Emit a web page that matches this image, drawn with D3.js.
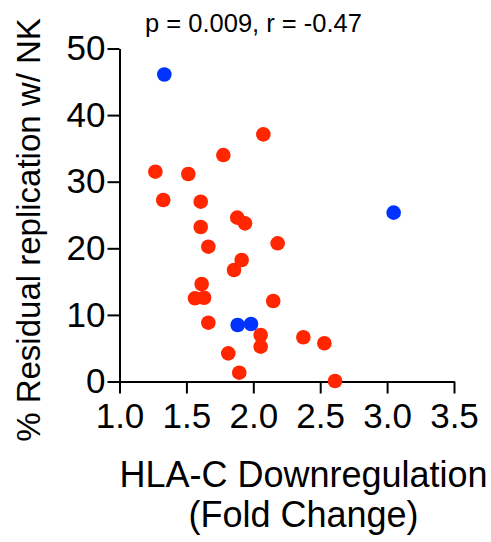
<!DOCTYPE html>
<html>
<head>
<meta charset="utf-8">
<script src="https://cdn.jsdelivr.net/npm/d3@7"></script>
<style>
    body { margin: 0; background: #fff; }
    svg text { font-family: Arial, "Liberation Sans", sans-serif; fill: #000; }
</style>
</head>
<body>
<div id="chart"></div>
<script>
// Data
const redX = [1.268, 1.514, 2.075, 1.776, 1.327, 1.607, 1.880, 1.938, 1.607, 1.664,
              2.182, 1.913, 1.856, 1.614, 1.564, 1.632, 2.149, 1.664, 2.055, 2.055,
              1.813, 1.895, 2.374, 2.531, 2.611];
const redY = [31.5, 31.16, 37.1, 34.0, 27.25, 27.0, 24.6, 23.75, 23.2, 20.24,
              20.75, 18.24, 16.74, 14.64, 12.49, 12.58, 12.09, 8.83, 6.98, 5.23,
              4.23, 1.32, 6.64, 5.74, 0.08];
const blueX = [1.335, 1.883, 1.983, 3.049];
const blueY = [46.1, 8.48, 8.63, 25.35];

const xTicks = [1.0, 1.5, 2.0, 2.5, 3.0, 3.5];
const yTicks = [0, 10, 20, 30, 40, 50];

const statText = "p = 0.009, r = -0.47";
const xTitle = ["HLA-C Downregulation", "(Fold Change)"];
const yTitle = "% Residual replication w/ NK";

const width = 491, height = 542;

const svg = d3.select("#chart").append("svg")
    .attr("width", width)
    .attr("height", height);

// Scales
const xScale = d3.scaleLinear().domain([1, 3.5]).range([119.5, 454]);
const yScale = d3.scaleLinear().domain([0, 50]).range([381.5, 48.5]);

// Axes
const xAxis = svg.append("g")
    .attr("transform", `translate(0,${yScale(0)})`)
    .call(d3.axisBottom(xScale).tickValues(xTicks).tickFormat(d3.format(".1f"))
        .tickSize(12).tickSizeOuter(0).tickPadding(10));

const yAxis = svg.append("g")
    .attr("transform", `translate(${xScale(1)},0)`)
    .call(d3.axisLeft(yScale).tickValues(yTicks)
        .tickSize(12).tickSizeOuter(0).tickPadding(2));

[xAxis, yAxis].forEach(g => {
    g.selectAll("path, line").attr("stroke", "#000").attr("stroke-width", 2);
    g.selectAll("text")
        .style("font-size", "35px")
        .style("font-family", "Arial, 'Liberation Sans', sans-serif")
        .attr("fill", "#000");
});

// Points
const red = redX.map((x, i) => ({ x: x, y: redY[i] }));
const blue = blueX.map((x, i) => ({ x: x, y: blueY[i] }));

svg.selectAll(".red")
    .data(red)
    .enter()
    .append("circle")
    .attr("class", "red")
    .attr("cx", d => xScale(d.x))
    .attr("cy", d => yScale(d.y))
    .attr("r", 7.3)
    .attr("fill", "#ff2600");

svg.selectAll(".blue")
    .data(blue)
    .enter()
    .append("circle")
    .attr("class", "blue")
    .attr("cx", d => xScale(d.x))
    .attr("cy", d => yScale(d.y))
    .attr("r", 7.3)
    .attr("fill", "#0033ff");

// Labels
svg.append("text")
    .attr("x", 253.5)
    .attr("y", 31.5)
    .attr("text-anchor", "middle")
    .style("font-size", "25.5px")
    .text(statText);

xTitle.forEach((t, i) => {
    svg.append("text")
        .attr("x", 303.5)
        .attr("y", 487 + i * 40)
        .attr("text-anchor", "middle")
        .style("font-size", "36px")
        .text(t);
});

svg.append("text")
    .attr("transform", "translate(40,230) rotate(-90)")
    .attr("text-anchor", "middle")
    .style("font-size", "33px")
    .text(yTitle);
</script>
</body>
</html>
